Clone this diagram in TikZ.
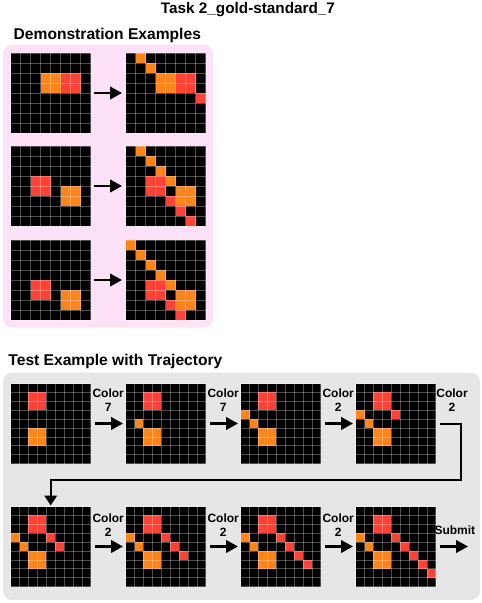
\documentclass[tikz,border=0pt]{standalone}
\usepackage{fontspec}
\setmainfont{Liberation Sans}
\usetikzlibrary{arrows.meta}
\definecolor{co}{HTML}{FF851B}
\definecolor{cr}{HTML}{FF4136}
\definecolor{pinkbg}{HTML}{FDE1F6}
\definecolor{graybg}{HTML}{E6E6E6}
\tikzset{
  gridbox/.style={rectangle, fill=black, minimum width=80, minimum height=80, inner sep=0pt, outer sep=0pt},
  gridline/.style={draw=white, draw opacity=0.3, line width=0.55pt},
  arr/.style={line width=2.5pt, -{Triangle[length=12pt,width=12.5pt]}},
  arrbent/.style={line width=2pt, -{Triangle[length=10pt,width=12.5pt]}},
  lbl/.style={font=\bfseries\fontsize{12}{14}\selectfont, align=center, inner sep=0pt},
  hdr/.style={font=\bfseries\fontsize{15.6}{18}\selectfont, inner sep=0pt, anchor=base west},
}
\newcommand\arcgrid[5]{%
  \node[gridbox] (#1) at ({#2+40},{#3+40}) {};
  \pgfmathsetmacro\cellsz{80/#4}
  \foreach \r/\c/\k in {#5}{\fill[\k] ({#2+\c*\cellsz},{#3+\r*\cellsz}) rectangle ++(\cellsz,\cellsz);}
  \foreach \i in {0,...,#4}{
    \draw[gridline] ({#2+\i*\cellsz},#3) -- ++(0,80);
    \draw[gridline] (#2,{#3+\i*\cellsz}) -- ++(80,0);}
}
\begin{document}
\begin{tikzpicture}[x=1pt,y=-1pt]
\useasboundingbox (0,0) rectangle (482,603);
% backgrounds
\fill[pinkbg, rounded corners=9pt] (3,45) rectangle (213,327.5);
\fill[graybg, rounded corners=9pt] (3,372.7) rectangle (480,600);
% headers
\node[font=\bfseries\fontsize{15.3}{18}\selectfont, inner sep=0pt, anchor=base] (title) at (248,13.5) {Task 2\_gold-standard\_7};
\node[hdr] (demohdr) at (13.5,39.3) {Demonstration Examples};
\node[hdr] (testhdr) at (8.3,365.7) {Test Example with Trajectory};
% demonstration grids
\arcgrid{d1a}{10.7}{53}{8}{2/3/co,2/4/co,3/3/co,3/4/co,2/5/cr,2/6/cr,3/5/cr,3/6/cr}
\arcgrid{d1b}{125.7}{53}{8}{2/3/co,2/4/co,3/3/co,3/4/co,2/5/cr,2/6/cr,3/5/cr,3/6/cr,0/1/co,1/2/co,4/7/cr}
\arcgrid{d2a}{10.7}{146}{8}{3/2/cr,3/3/cr,4/2/cr,4/3/cr,4/5/co,4/6/co,5/5/co,5/6/co}
\arcgrid{d2b}{125.7}{146}{8}{3/2/cr,3/3/cr,4/2/cr,4/3/cr,4/5/co,4/6/co,5/5/co,5/6/co,0/1/co,1/2/co,2/3/co,3/4/co,5/4/cr,6/5/cr,7/6/cr}
\arcgrid{d3a}{10.7}{240}{8}{4/2/cr,4/3/cr,5/2/cr,5/3/cr,5/5/co,5/6/co,6/5/co,6/6/co}
\arcgrid{d3b}{125.7}{240}{8}{4/2/cr,4/3/cr,5/2/cr,5/3/cr,5/5/co,5/6/co,6/5/co,6/6/co,0/0/co,1/1/co,2/2/co,3/3/co,4/4/co,6/4/cr,7/5/cr}
% test grids
\arcgrid{t0}{10.7}{383.5}{9}{1/2/cr,1/3/cr,2/2/cr,2/3/cr,5/2/co,5/3/co,6/2/co,6/3/co}
\arcgrid{t1}{125.7}{383.5}{9}{1/2/cr,1/3/cr,2/2/cr,2/3/cr,5/2/co,5/3/co,6/2/co,6/3/co,4/1/co}
\arcgrid{t2}{240.7}{383.5}{9}{1/2/cr,1/3/cr,2/2/cr,2/3/cr,5/2/co,5/3/co,6/2/co,6/3/co,4/1/co,3/0/co}
\arcgrid{t3}{355.7}{383.5}{9}{1/2/cr,1/3/cr,2/2/cr,2/3/cr,5/2/co,5/3/co,6/2/co,6/3/co,4/1/co,3/0/co,3/4/cr}
\arcgrid{t4}{10.7}{506.5}{9}{1/2/cr,1/3/cr,2/2/cr,2/3/cr,5/2/co,5/3/co,6/2/co,6/3/co,4/1/co,3/0/co,3/4/cr,4/5/cr}
\arcgrid{t5}{125.7}{506.5}{9}{1/2/cr,1/3/cr,2/2/cr,2/3/cr,5/2/co,5/3/co,6/2/co,6/3/co,4/1/co,3/0/co,3/4/cr,4/5/cr,5/6/cr}
\arcgrid{t6}{240.7}{506.5}{9}{1/2/cr,1/3/cr,2/2/cr,2/3/cr,5/2/co,5/3/co,6/2/co,6/3/co,4/1/co,3/0/co,3/4/cr,4/5/cr,5/6/cr,6/7/cr}
\arcgrid{t7}{355.7}{506.5}{9}{1/2/cr,1/3/cr,2/2/cr,2/3/cr,5/2/co,5/3/co,6/2/co,6/3/co,4/1/co,3/0/co,3/4/cr,4/5/cr,5/6/cr,6/7/cr,7/8/cr}
% demo arrows
\foreach \n in {1,2,3}{
  \draw[arr, shorten <=3.3pt, shorten >=3.7pt] (d\n a.east) -- (d\n b.west);}
% test arrows row 1
\draw[arr, shorten <=4.3pt, shorten >=2.7pt] (t0.east) -- node[lbl, above=11pt]{Color\\7} (t1.west);
\draw[arr, shorten <=4.3pt, shorten >=2.7pt] (t1.east) -- node[lbl, above=11pt]{Color\\7} (t2.west);
\draw[arr, shorten <=4.3pt, shorten >=2.7pt] (t2.east) -- node[lbl, above=11pt]{Color\\2} (t3.west);
% bent arrow
\coordinate (b1) at (461,423.5);
\coordinate (b2) at (461,480);
\draw[arrbent, shorten >=1pt] ([xshift=4.3pt]t3.east) -- node[lbl, above=11pt, xshift=1.5pt]{Color\\2} (b1) -- (b2) -| (t4.north);
% test arrows row 2
\draw[arr, shorten <=4.3pt, shorten >=2.7pt] (t4.east) -- node[lbl, above=8.5pt]{Color\\2} (t5.west);
\draw[arr, shorten <=4.3pt, shorten >=2.7pt] (t5.east) -- node[lbl, above=8.5pt]{Color\\2} (t6.west);
\draw[arr, shorten <=4.3pt, shorten >=2.7pt] (t6.east) -- node[lbl, above=8.5pt]{Color\\2} (t7.west);
\coordinate (sub) at (468,546.5);
\draw[arr, shorten <=4.3pt] (t7.east) -- node[lbl, above=10.5pt, xshift=3pt]{Submit} (sub);
\end{tikzpicture}
\end{document}
